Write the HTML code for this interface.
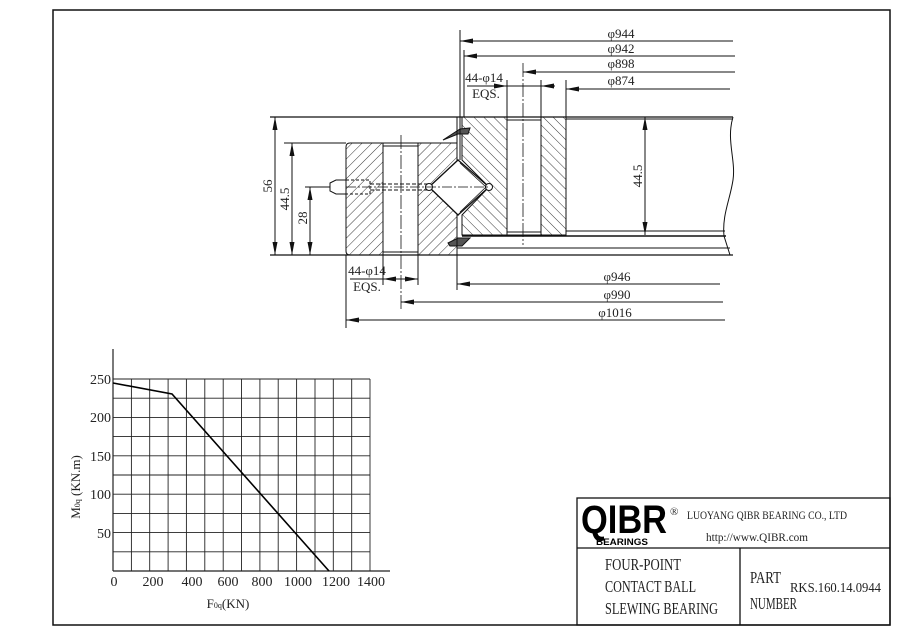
<!DOCTYPE html>
<html><head><meta charset="utf-8"><style>
html,body{margin:0;padding:0;background:#fff;}
svg{display:block;}
text{font-family:"Liberation Serif",serif;fill:#222;}
</style></head><body>
<svg width="900" height="636" viewBox="0 0 900 636" xmlns="http://www.w3.org/2000/svg">
<defs>
<pattern id="hb" patternUnits="userSpaceOnUse" width="7" height="7" patternTransform="rotate(45)">
<line x1="0" y1="0" x2="0" y2="7" stroke="#222" stroke-width="0.9"/></pattern>
<pattern id="hf" patternUnits="userSpaceOnUse" width="7" height="7" patternTransform="rotate(-45)">
<line x1="0" y1="0" x2="0" y2="7" stroke="#222" stroke-width="0.9"/></pattern>
<marker id="as" viewBox="0 0 10 6" refX="0" refY="3" markerWidth="13" markerHeight="5" preserveAspectRatio="none" orient="auto" markerUnits="userSpaceOnUse">
<path d="M0,3 L10,0 L10,6 Z" fill="#111"/></marker>
<marker id="ae" viewBox="0 0 10 6" refX="10" refY="3" markerWidth="13" markerHeight="5" preserveAspectRatio="none" orient="auto" markerUnits="userSpaceOnUse">
<path d="M10,3 L0,0 L0,6 Z" fill="#111"/></marker>
</defs>
<rect x="0" y="0" width="900" height="636" fill="#fff"/>
<rect x="53" y="10" width="837" height="615" fill="none" stroke="#111" stroke-width="1.5"/>

<g stroke="#111" stroke-width="1" fill="none">
<path d="M350,143 L383,143 L383,255 L350,255 Q346,255 346,251 L346,147 Q346,143 350,143Z" fill="url(#hb)"/>
<path d="M418,143 L457,143 L457,160 L458,160 L429,187 L458,215 L457,215 L457,255 L418,255Z" fill="url(#hb)"/>
<rect x="383" y="143" width="35" height="112"/>
<line x1="383" y1="146" x2="418" y2="146"/><line x1="383" y1="252" x2="418" y2="252"/>
<path d="M462,117 L507,117 L507,235 L462,235 L462,215 L489,187 L462,160Z" fill="url(#hf)"/>
<rect x="541" y="117" width="25" height="118" fill="url(#hf)"/>
<line x1="507" y1="117" x2="541" y2="117"/><line x1="507" y1="235" x2="541" y2="235"/>
<line x1="507" y1="120" x2="541" y2="120"/><line x1="507" y1="232" x2="541" y2="232"/>
<path d="M458,160 L489,187 L458,215 L429,187Z" stroke-width="1.3"/>
<path d="M460,163 L486,187 L460,212" stroke-width="0.8"/>
<circle cx="429" cy="187" r="3.5" fill="#fff"/><circle cx="489" cy="187" r="3.5" fill="#fff"/>
<path d="M443,140 L460,129 L470,128 L468,134 L458,134 Z" fill="#555"/>
<path d="M448,243 L458,238 L470,238 L462,246 L450,246 Z" fill="#555"/>
<line x1="457" y1="117" x2="457" y2="160"/><line x1="460" y1="117" x2="460" y2="160"/>
<line x1="457" y1="215" x2="457" y2="255"/>
<line x1="270" y1="117" x2="733" y2="117" stroke-width="1.3"/>
<line x1="566" y1="119" x2="733" y2="119"/>
<line x1="270" y1="255" x2="733" y2="255" stroke-width="1.3"/>
<line x1="566" y1="231" x2="725" y2="231"/>
<line x1="462" y1="236" x2="726" y2="236" stroke-width="1.6"/>
<line x1="457" y1="248" x2="730" y2="248"/>
<line x1="284" y1="143" x2="346" y2="143"/>
<line x1="305" y1="187" x2="346" y2="187"/>
<path d="M733,117 C726,140 736,160 733,180 C730,200 722,215 724,236 L730,255" />
<path d="M330,183 L336,180 L346,180 L346,194 L336,194 L330,191Z" fill="#fff"/>
<line x1="322" y1="187" x2="330" y2="187"/>
<rect x="346" y="180" width="24" height="14" stroke-dasharray="3,2"/>
<line x1="370" y1="184" x2="429" y2="184" stroke-dasharray="4,2"/>
<line x1="370" y1="190" x2="429" y2="190" stroke-dasharray="4,2"/>
<line x1="346" y1="187" x2="489" y2="187" stroke-dasharray="10,2,2,2" stroke-width="0.7"/>
<line x1="401" y1="135" x2="401" y2="310" stroke-dasharray="14,2,2,2" stroke-width="0.8"/>
<line x1="523" y1="63" x2="523" y2="245" stroke-dasharray="14,2,2,2" stroke-width="0.8"/>
<line x1="275" y1="117" x2="275" y2="255" marker-start="url(#as)" marker-end="url(#ae)"/>
<line x1="292" y1="143" x2="292" y2="255" marker-start="url(#as)" marker-end="url(#ae)"/>
<line x1="310" y1="187" x2="310" y2="255" marker-start="url(#as)" marker-end="url(#ae)"/>
<line x1="645" y1="117" x2="645" y2="235" marker-start="url(#as)" marker-end="url(#ae)"/>
<line x1="460" y1="30" x2="460" y2="117"/>
<line x1="464" y1="50" x2="464" y2="117"/>
<line x1="507" y1="80" x2="507" y2="117"/>
<line x1="541" y1="80" x2="541" y2="117"/>
<line x1="566" y1="80" x2="566" y2="117"/>
<line x1="460" y1="41" x2="733" y2="41" marker-start="url(#as)"/>
<line x1="464" y1="56" x2="735" y2="56" marker-start="url(#as)"/>
<line x1="523" y1="72" x2="735" y2="72" marker-start="url(#as)"/>
<line x1="566" y1="89" x2="730" y2="89" marker-start="url(#as)"/>
<line x1="467" y1="86" x2="507" y2="86"/>
<line x1="495" y1="86" x2="507" y2="86" marker-end="url(#ae)"/>
<line x1="555" y1="86" x2="541" y2="86" marker-end="url(#ae)"/>
<line x1="507" y1="86" x2="541" y2="86"/>
<line x1="383" y1="255" x2="383" y2="285"/>
<line x1="418" y1="255" x2="418" y2="285"/>
<line x1="457" y1="255" x2="457" y2="290"/>
<line x1="346" y1="255" x2="346" y2="328"/>
<line x1="350" y1="279" x2="418" y2="279"/>
<line x1="396" y1="279" x2="383" y2="279" marker-end="url(#ae)"/>
<line x1="405" y1="279" x2="418" y2="279" marker-end="url(#ae)"/>
<line x1="457" y1="284" x2="720" y2="284" marker-start="url(#as)"/>
<line x1="401" y1="302" x2="723" y2="302" marker-start="url(#as)"/>
<line x1="346" y1="320" x2="725" y2="320" marker-start="url(#as)"/>
</g>
<g font-size="13">
<text x="621" y="38" text-anchor="middle">φ944</text>
<text x="621" y="53" text-anchor="middle">φ942</text>
<text x="621" y="68" text-anchor="middle">φ898</text>
<text x="621" y="85" text-anchor="middle">φ874</text>
<text x="484" y="82" text-anchor="middle">44-φ14</text>
<text x="486" y="98" text-anchor="middle">EQS.</text>
<text x="367" y="275" text-anchor="middle">44-φ14</text>
<text x="367" y="291" text-anchor="middle">EQS.</text>
<text x="617" y="281" text-anchor="middle">φ946</text>
<text x="617" y="299" text-anchor="middle">φ990</text>
<text x="615" y="317" text-anchor="middle">φ1016</text>
<text transform="translate(272,186) rotate(-90)" text-anchor="middle">56</text>
<text transform="translate(289,199) rotate(-90)" text-anchor="middle">44.5</text>
<text transform="translate(307,218) rotate(-90)" text-anchor="middle">28</text>
<text transform="translate(642,176) rotate(-90)" text-anchor="middle">44.5</text>
</g>

<g stroke="#222" stroke-width="0.9">
<line x1="131.4" y1="379" x2="131.4" y2="571"/><line x1="149.7" y1="379" x2="149.7" y2="571"/>
<line x1="168.1" y1="379" x2="168.1" y2="571"/><line x1="186.4" y1="379" x2="186.4" y2="571"/>
<line x1="204.8" y1="379" x2="204.8" y2="571"/><line x1="223.2" y1="379" x2="223.2" y2="571"/>
<line x1="241.5" y1="379" x2="241.5" y2="571"/><line x1="259.9" y1="379" x2="259.9" y2="571"/>
<line x1="278.2" y1="379" x2="278.2" y2="571"/><line x1="296.6" y1="379" x2="296.6" y2="571"/>
<line x1="315" y1="379" x2="315" y2="571"/><line x1="333.3" y1="379" x2="333.3" y2="571"/>
<line x1="351.7" y1="379" x2="351.7" y2="571"/><line x1="370" y1="379" x2="370" y2="571"/>
<line x1="113" y1="379" x2="370" y2="379"/><line x1="113" y1="398.2" x2="370" y2="398.2"/>
<line x1="113" y1="417.4" x2="370" y2="417.4"/><line x1="113" y1="436.6" x2="370" y2="436.6"/>
<line x1="113" y1="455.8" x2="370" y2="455.8"/><line x1="113" y1="475" x2="370" y2="475"/>
<line x1="113" y1="494.2" x2="370" y2="494.2"/><line x1="113" y1="513.4" x2="370" y2="513.4"/>
<line x1="113" y1="532.6" x2="370" y2="532.6"/><line x1="113" y1="551.8" x2="370" y2="551.8"/>
<line x1="113" y1="349" x2="113" y2="571" stroke-width="1.2"/>
<line x1="113" y1="571" x2="390" y2="571" stroke-width="1.2"/>
<polyline points="113,383 172,394 329,571" fill="none" stroke="#000" stroke-width="1.6"/>
</g>
<g font-size="14">
<text x="111" y="384" text-anchor="end">250</text>
<text x="111" y="422" text-anchor="end">200</text>
<text x="111" y="461" text-anchor="end">150</text>
<text x="111" y="499" text-anchor="end">100</text>
<text x="111" y="538" text-anchor="end">50</text>
<text x="114" y="586" text-anchor="middle">0</text>
<text x="153" y="586" text-anchor="middle">200</text>
<text x="192" y="586" text-anchor="middle">400</text>
<text x="228" y="586" text-anchor="middle">600</text>
<text x="262" y="586" text-anchor="middle">800</text>
<text x="298" y="586" text-anchor="middle">1000</text>
<text x="336" y="586" text-anchor="middle">1200</text>
<text x="371" y="586" text-anchor="middle">1400</text>
<text x="228" y="608" text-anchor="middle" font-size="13">F<tspan font-size="8">0q</tspan>(KN)</text>
<text transform="translate(80,487) rotate(-90)" text-anchor="middle" font-size="13">M<tspan font-size="8">0q</tspan> (KN.m)</text>
</g>

<g stroke="#111" fill="none" stroke-width="1.3">
<rect x="577" y="498" width="313" height="127"/>
<line x1="577" y1="548" x2="890" y2="548"/>
<line x1="740" y1="548" x2="740" y2="625"/>
</g>
<text x="581" y="533" style="font-family:'Liberation Sans',sans-serif;font-weight:bold;font-size:40px;fill:#000" textLength="86" lengthAdjust="spacingAndGlyphs">QIBR</text>
<text x="670" y="515" font-size="11">®</text>
<text x="596" y="545" style="font-family:'Liberation Sans',sans-serif;font-weight:bold;font-size:9px;fill:#000" textLength="52" lengthAdjust="spacingAndGlyphs">BEARINGS</text>
<text x="687" y="519" font-size="12" textLength="160" lengthAdjust="spacingAndGlyphs">LUOYANG QIBR BEARING CO., LTD</text>
<text x="706" y="541" font-size="12" textLength="102" lengthAdjust="spacingAndGlyphs">http://www.QIBR.com</text>
<g font-size="17">
<text x="605" y="570" textLength="76" lengthAdjust="spacingAndGlyphs">FOUR-POINT</text>
<text x="605" y="592" textLength="91" lengthAdjust="spacingAndGlyphs">CONTACT BALL</text>
<text x="605" y="614" textLength="113" lengthAdjust="spacingAndGlyphs">SLEWING BEARING</text>
<text x="750" y="583" textLength="31" lengthAdjust="spacingAndGlyphs">PART</text>
<text x="750" y="609" textLength="47" lengthAdjust="spacingAndGlyphs">NUMBER</text>
<text x="790" y="592" font-size="14" textLength="91" lengthAdjust="spacingAndGlyphs">RKS.160.14.0944</text>
</g>
</svg>
</body></html>
